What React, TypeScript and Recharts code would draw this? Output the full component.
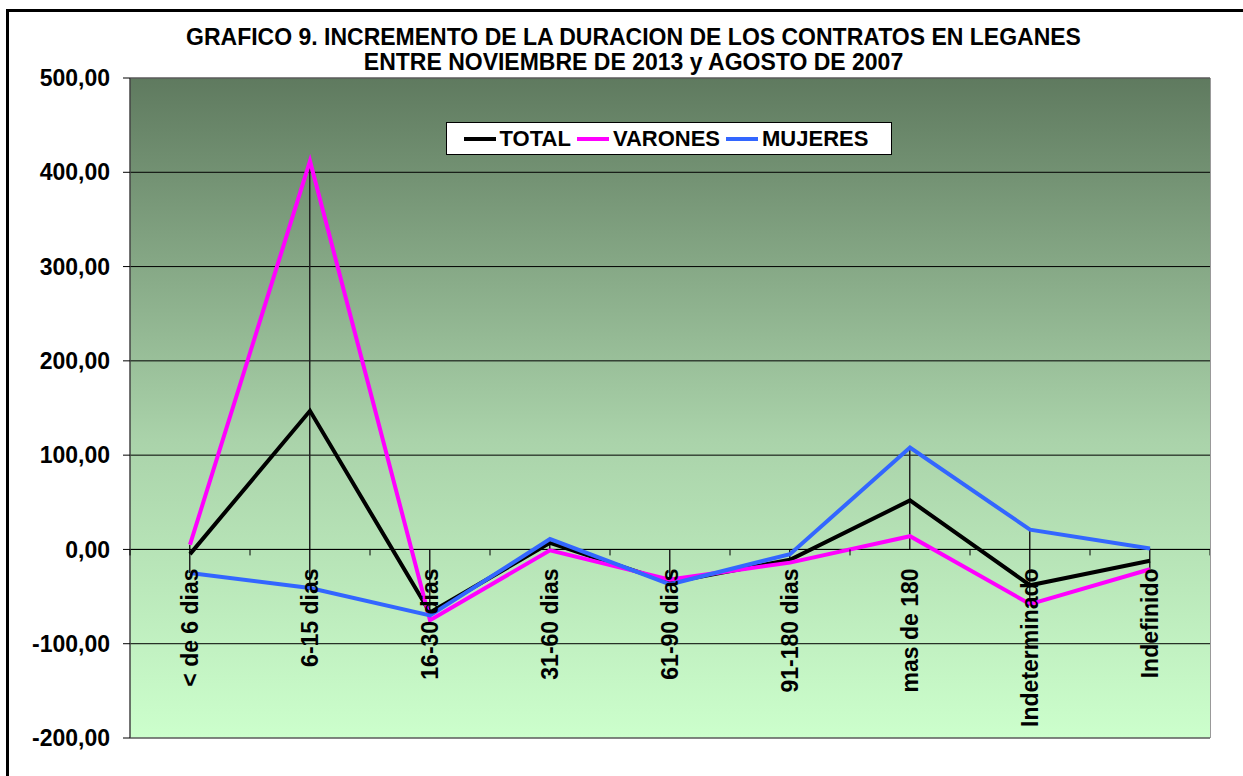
import React from 'react';
import { Bar, CartesianGrid, ComposedChart, LabelList, Line, ReferenceLine, XAxis, YAxis } from 'recharts';

// categorias y valores (incremento %)
const categorias = [
  '< de 6 dias',
  '6-15 dias',
  '16-30 dias',
  '31-60 dias',
  '61-90 dias',
  '91-180 dias',
  'mas de 180',
  'Indeterminado',
  'Indefinido',
];
const total = [-5, 147, -67, 7, -35, -11, 52, -38, -12];
const varones = [5, 412, -75, -1, -32, -14, 14, -58, -21];
const mujeres = [-25, -41, -70, 11, -37, -5, 108, 21, 1];
const yTicks = [-200, -100, 0, 100, 200, 300, 400, 500];

const FONT = '"Liberation Sans", Arial, sans-serif';
const W = 1243;
const H = 776;
const PLOT_LEFT = 130;
const PLOT_RIGHT = 1210;
const PLOT_TOP = 78;
const PLOT_BOTTOM = 738;
const HALF_BAND = (PLOT_RIGHT - PLOT_LEFT) / categorias.length / 2;

const series = [
  { key: 'total', name: 'TOTAL', color: '#000000' },
  { key: 'varones', name: 'VARONES', color: '#ff00ff' },
  { key: 'mujeres', name: 'MUJERES', color: '#3366ff' },
];

const data = categorias.map((cat, i) => ({
  cat,
  total: total[i],
  varones: varones[i],
  mujeres: mujeres[i],
  eje: 0,
  // linea de caida: del punto mas alto al mas bajo, pasando por el eje
  caida: [Math.min(0, total[i], varones[i], mujeres[i]), Math.max(0, total[i], varones[i], mujeres[i])],
}));

const fmt = (v: number) => v.toFixed(2).replace('.', ',');

function EtiquetaCategoria(props: any) {
  const { x, y, index } = props;
  return (
    <g>
      <line x1={x + HALF_BAND} y1={y} x2={x + HALF_BAND} y2={y + 6} stroke="#000" strokeWidth={1} />
      {index === 0 && <line x1={x - HALF_BAND} y1={y} x2={x - HALF_BAND} y2={y + 6} stroke="#000" strokeWidth={1} />}
      <text
        x={0}
        y={0}
        transform={`translate(${x + 8}, ${y + 19}) rotate(-90)`}
        textAnchor="end"
        fontFamily={FONT}
        fontWeight="bold"
        fontSize={23}
        fill="#000"
      >
        {categorias[index]}
      </text>
    </g>
  );
}

function Leyenda() {
  return (
    <div
      style={{
        position: 'absolute',
        left: 446,
        top: 122,
        display: 'flex',
        alignItems: 'center',
        justifyContent: 'center',
        background: '#fff',
        border: '1px solid #000',
        height: 31,
        width: 444,
      }}
    >
      {series.map((it) => (
        <div key={it.key} style={{ display: 'flex', alignItems: 'center', marginRight: 6 }}>
          <span style={{ display: 'inline-block', width: 32, height: 4, background: it.color, marginRight: 4 }} />
          <span style={{ fontFamily: FONT, fontWeight: 'bold', fontSize: 22, color: '#000' }}>{it.name}</span>
        </div>
      ))}
    </div>
  );
}

export default function App() {
  return (
    <div style={{ position: 'fixed', left: 0, top: 0, width: W, height: H, overflow: 'hidden', background: '#fff' }}>
      <div
        style={{
          position: 'absolute',
          left: 6,
          top: 9,
          width: 1300,
          height: 820,
          border: '3px solid #000',
        }}
      />
      <div
        style={{
          position: 'absolute',
          left: 0,
          width: W,
          top: 25,
          paddingLeft: 12,
          textAlign: 'center',
          fontFamily: FONT,
          fontWeight: 'bold',
          fontSize: 23,
          lineHeight: '25px',
          color: '#000',
        }}
      >
        GRAFICO 9. INCREMENTO DE LA DURACION DE LOS CONTRATOS EN LEGANES
        <br />
        ENTRE NOVIEMBRE DE 2013 y AGOSTO DE 2007
      </div>
      <div style={{ position: 'absolute', left: 0, top: 0 }}>
        <ComposedChart
          width={W}
          height={H}
          data={data}
          margin={{ top: PLOT_TOP, right: W - PLOT_RIGHT, bottom: H - PLOT_BOTTOM, left: 10 }}
        >
          <defs>
            <linearGradient id="fondo" x1="0" y1="0" x2="0" y2="1">
              <stop offset="0%" stopColor="#5f7a5f" />
              <stop offset="55%" stopColor="#aad3aa" />
              <stop offset="100%" stopColor="#ccffcc" />
            </linearGradient>
          </defs>
          <CartesianGrid
            vertical={false}
            stroke="#000"
            strokeWidth={1}
            fill="url(#fondo)"
            fillOpacity={1}
          />
          <XAxis dataKey="cat" hide />
          <YAxis
            domain={[-200, 500]}
            ticks={yTicks}
            interval={0}
            width={120}
            tickFormatter={fmt}
            axisLine={{ stroke: '#444', strokeWidth: 1.5 }}
            tickLine={{ stroke: '#000' }}
            tickSize={7}
            tickMargin={13}
            tick={{ fontFamily: FONT, fontWeight: 'bold', fontSize: 23, fill: '#000' }}
          />
          <ReferenceLine y={500} stroke="#888" strokeWidth={1} />
          <ReferenceLine y={-200} stroke="#888" strokeWidth={1} />
          <Bar dataKey="caida" barSize={1.5} fill="#222" isAnimationActive={false} />
          <ReferenceLine y={0} stroke="#000" strokeWidth={1} />
          <Line dataKey="eje" stroke="none" dot={false} activeDot={false} isAnimationActive={false}>
            <LabelList dataKey="eje" content={<EtiquetaCategoria />} />
          </Line>
          {series.map((s) => (
            <Line
              key={s.key}
              dataKey={s.key}
              name={s.name}
              stroke={s.color}
              strokeWidth={4}
              dot={false}
              isAnimationActive={false}
            />
          ))}
        </ComposedChart>
      </div>
      <div
        style={{
          position: 'absolute',
          left: PLOT_RIGHT,
          top: PLOT_TOP,
          width: 1,
          height: PLOT_BOTTOM - PLOT_TOP,
          background: '#999',
        }}
      />
      <Leyenda />
    </div>
  );
}
